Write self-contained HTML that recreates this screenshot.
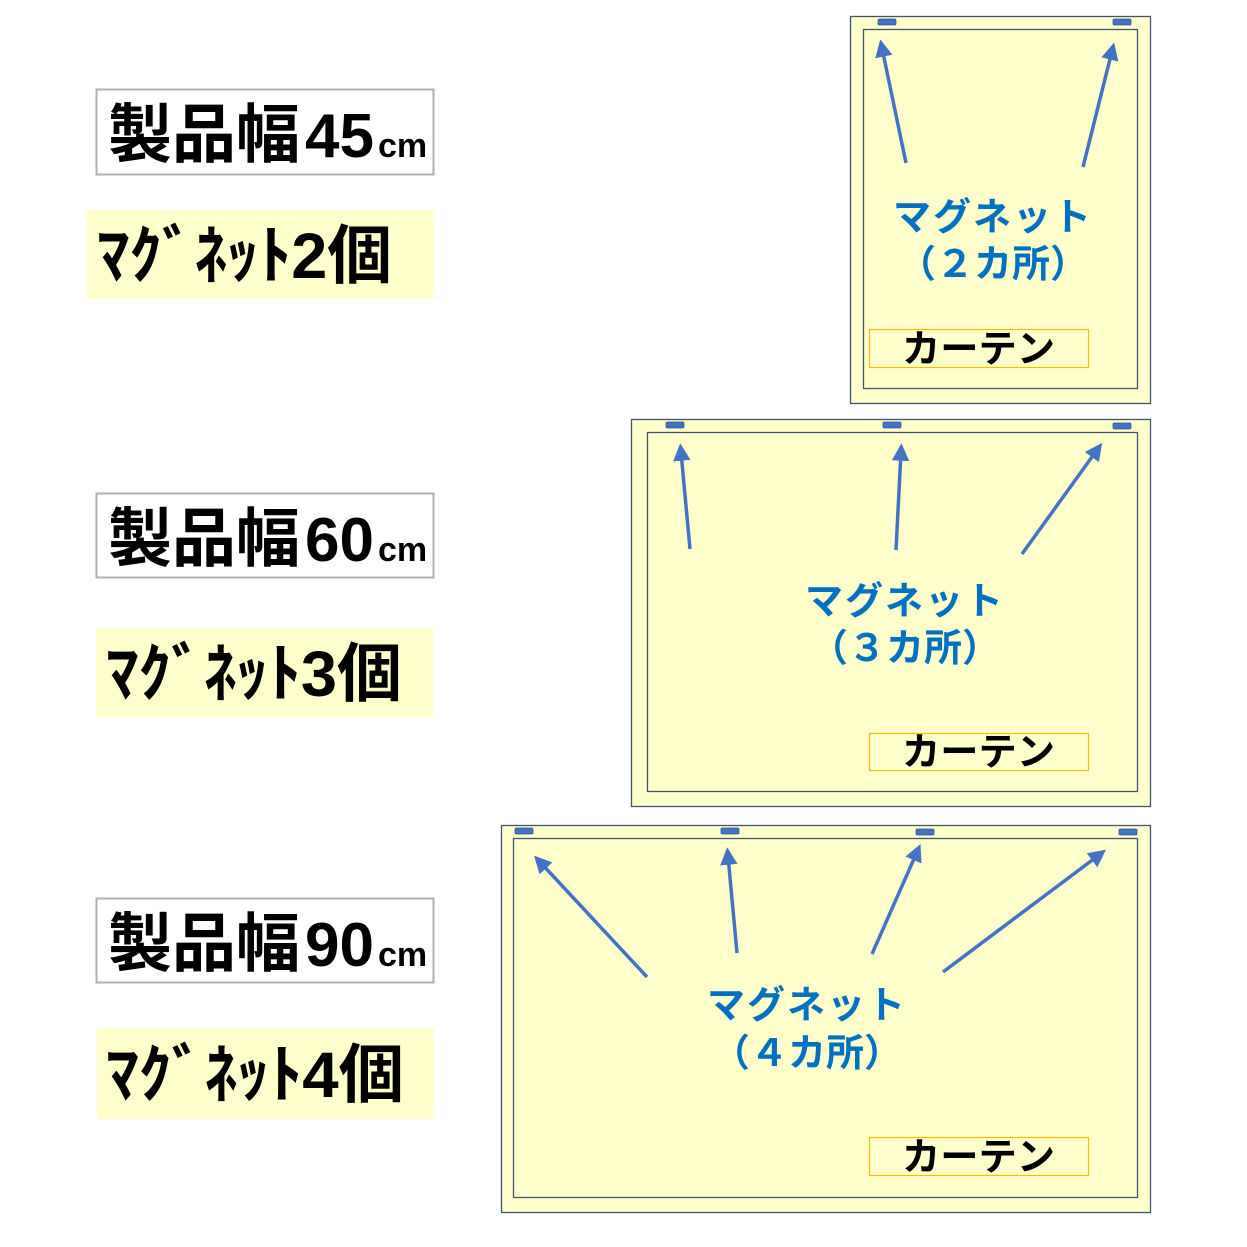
<!DOCTYPE html>
<html><head><meta charset="utf-8"><style>
html,body{margin:0;padding:0;background:#fff;}
svg{display:block;}
.jp{font-family:"Liberation Sans","Noto Sans CJK JP",sans-serif;font-weight:bold;}
</style></head><body>
<svg width="1247" height="1247" viewBox="0 0 1247 1247" xmlns="http://www.w3.org/2000/svg">
<defs>
<marker id="ah" markerWidth="5" markerHeight="5" refX="2.5" refY="2.5" orient="auto" markerUnits="strokeWidth">
<path d="M0,0 L5,2.5 L0,5 z" fill="#4472c4"/>
</marker>
</defs>
<rect width="1247" height="1247" fill="#fff"/>

<g class="jp">
<rect x="96.5" y="89.5" width="337" height="85" fill="#fff" stroke="#b0b0b0" stroke-width="2"/>
<text x="108" y="157" font-size="64" fill="#000" font-family="Noto Sans CJK JP, sans-serif" font-weight="bold">製品幅<tspan dx="5" font-family="Liberation Sans, sans-serif" font-size="62">45</tspan><tspan dx="4" font-family="Liberation Sans, sans-serif" font-size="34">cm</tspan></text>
<rect x="87" y="210" width="347" height="89" fill="#ffffcc"/>
<text x="97" y="278" font-size="64" fill="#000" textLength="295" lengthAdjust="spacingAndGlyphs">ﾏｸﾞﾈｯﾄ2個</text>

<rect x="96.5" y="493.5" width="337" height="84" fill="#fff" stroke="#b0b0b0" stroke-width="2"/>
<text x="108" y="561" font-size="64" fill="#000" font-family="Noto Sans CJK JP, sans-serif" font-weight="bold">製品幅<tspan dx="5" font-family="Liberation Sans, sans-serif" font-size="62">60</tspan><tspan dx="4" font-family="Liberation Sans, sans-serif" font-size="34">cm</tspan></text>
<rect x="96" y="628" width="337" height="89" fill="#ffffcc"/>
<text x="106" y="696" font-size="64" fill="#000" textLength="296" lengthAdjust="spacingAndGlyphs">ﾏｸﾞﾈｯﾄ3個</text>

<rect x="96.5" y="898.5" width="337" height="84" fill="#fff" stroke="#b0b0b0" stroke-width="2"/>
<text x="108" y="966" font-size="64" fill="#000" font-family="Noto Sans CJK JP, sans-serif" font-weight="bold">製品幅<tspan dx="5" font-family="Liberation Sans, sans-serif" font-size="62">90</tspan><tspan dx="4" font-family="Liberation Sans, sans-serif" font-size="34">cm</tspan></text>
<rect x="97" y="1028" width="337" height="91" fill="#ffffcc"/>
<text x="106" y="1097" font-size="64" fill="#000" textLength="298" lengthAdjust="spacingAndGlyphs">ﾏｸﾞﾈｯﾄ4個</text>
</g>

<!-- Box 1 -->
<rect x="850.5" y="16.5" width="300" height="387" fill="#ffffcc" stroke="#44546a" stroke-width="1.3"/>
<rect x="863.5" y="29.5" width="274" height="359" fill="none" stroke="#44546a" stroke-width="1.3"/>
<rect x="878" y="19" width="18" height="6" rx="1.5" fill="#4472c4" stroke="#2f5597" stroke-width="0.8"/>
<rect x="1113" y="19" width="18" height="6" rx="1.5" fill="#4472c4" stroke="#2f5597" stroke-width="0.8"/>
<g stroke="#4472c4" stroke-width="3.5" marker-end="url(#ah)">
<line x1="906" y1="163" x2="882" y2="48"/>
<line x1="1083" y1="167" x2="1112" y2="51"/>
</g>
<g class="jp" fill="#0070c0" font-size="38" text-anchor="middle">
<text x="993" y="230" letter-spacing="2">マグネット</text>
<text x="993" y="277">（２カ所）</text>
</g>
<rect x="869.5" y="329.5" width="219" height="38" fill="#ffffcc" stroke="#f0c000" stroke-width="1.2"/>
<text class="jp" x="902" y="362" font-size="38" fill="#000" textLength="153" lengthAdjust="spacingAndGlyphs">カーテン</text>

<!-- Box 2 -->
<rect x="631.5" y="419.5" width="519" height="387" fill="#ffffcc" stroke="#44546a" stroke-width="1.3"/>
<rect x="647.5" y="432.5" width="490" height="359" fill="none" stroke="#44546a" stroke-width="1.3"/>
<rect x="666" y="422" width="18" height="6" rx="1.5" fill="#4472c4" stroke="#2f5597" stroke-width="0.8"/>
<rect x="883" y="422" width="18" height="6" rx="1.5" fill="#4472c4" stroke="#2f5597" stroke-width="0.8"/>
<rect x="1113" y="423" width="18" height="6" rx="1.5" fill="#4472c4" stroke="#2f5597" stroke-width="0.8"/>
<g stroke="#4472c4" stroke-width="3.5" marker-end="url(#ah)">
<line x1="690" y1="549" x2="681" y2="452"/>
<line x1="896" y1="550" x2="901" y2="452"/>
<line x1="1022" y1="554" x2="1097" y2="450"/>
</g>
<g class="jp" fill="#0070c0" font-size="38" text-anchor="middle">
<text x="905" y="614" letter-spacing="2">マグネット</text>
<text x="905" y="661">（３カ所）</text>
</g>
<rect x="869.5" y="733.5" width="219" height="37" fill="#ffffcc" stroke="#f0c000" stroke-width="1.2"/>
<text class="jp" x="902" y="765" font-size="38" fill="#000" textLength="153" lengthAdjust="spacingAndGlyphs">カーテン</text>

<!-- Box 3 -->
<rect x="501.5" y="825.5" width="649" height="387" fill="#ffffcc" stroke="#44546a" stroke-width="1.3"/>
<rect x="513.5" y="838.5" width="624" height="359" fill="none" stroke="#44546a" stroke-width="1.3"/>
<rect x="515" y="828" width="18" height="6" rx="1.5" fill="#4472c4" stroke="#2f5597" stroke-width="0.8"/>
<rect x="721" y="828" width="18" height="6" rx="1.5" fill="#4472c4" stroke="#2f5597" stroke-width="0.8"/>
<rect x="916" y="829" width="18" height="6" rx="1.5" fill="#4472c4" stroke="#2f5597" stroke-width="0.8"/>
<rect x="1119" y="829" width="18" height="6" rx="1.5" fill="#4472c4" stroke="#2f5597" stroke-width="0.8"/>
<g stroke="#4472c4" stroke-width="3.5" marker-end="url(#ah)">
<line x1="647" y1="977" x2="540" y2="862"/>
<line x1="737" y1="953" x2="728" y2="856"/>
<line x1="872" y1="954" x2="917" y2="852"/>
<line x1="943" y1="972" x2="1099" y2="855"/>
</g>
<g class="jp" fill="#0070c0" font-size="38" text-anchor="middle">
<text x="807" y="1018" letter-spacing="2">マグネット</text>
<text x="807" y="1066">（４カ所）</text>
</g>
<rect x="869.5" y="1137.5" width="219" height="38" fill="#ffffcc" stroke="#f0c000" stroke-width="1.2"/>
<text class="jp" x="902" y="1170" font-size="38" fill="#000" textLength="153" lengthAdjust="spacingAndGlyphs">カーテン</text>
</svg>
</body></html>
